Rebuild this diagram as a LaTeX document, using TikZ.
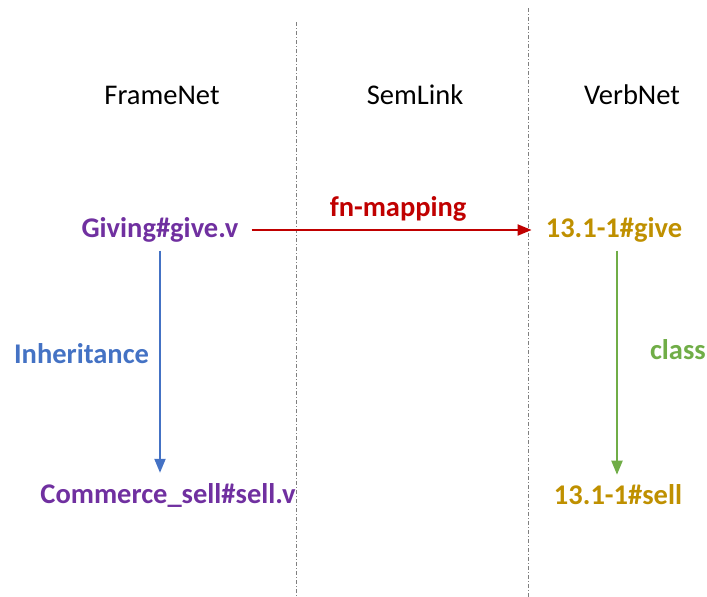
\documentclass[tikz,border=0pt]{standalone}
\usepackage{fontspec}
\setmainfont{Carlito}
\usepackage{xcolor}
\usetikzlibrary{arrows.meta}

\definecolor{fnpurple}{HTML}{7030A0}
\definecolor{vngold}{HTML}{BF9000}
\definecolor{maplred}{HTML}{C00000}
\definecolor{inhblue}{HTML}{4472C4}
\definecolor{clsgreen}{HTML}{70AD47}

\begin{document}
\begin{tikzpicture}[x=1pt, y=-1pt,
		txt/.style={font=\fontsize{28.5}{33}\selectfont, inner sep=4pt},
		entry/.style={txt, font=\fontsize{28.5}{33}\selectfont\bfseries},
		sepline/.style={gray, line width=0.6pt, dash pattern=on 4pt off 2pt on 1pt off 2pt},
		link/.style={line width=2pt, -{Triangle[length=14pt, width=11pt]}}]
		\useasboundingbox (0,0) rectangle (707,597);

		\draw [sepline] (296,22) -- (296,597);
		\draw [sepline] (528,8) -- (528,597);

		\node [txt] (framenet) at (162,95) {FrameNet};
		\node [txt] (semlink) at (415,95) {SemLink};
		\node [txt] (verbnet) at (632,95) {VerbNet};

		\node [entry, text=fnpurple] (giving) at (160,230) {Giving\#give.v};
		\node [entry, text=fnpurple] (commerce) at (168,495) {Commerce\_sell\#sell.v};
		\node [entry, text=vngold] (give13) at (614,230) {13.1-1\#give};
		\node [entry, text=vngold] (sell13) at (618,495) {13.1-1\#sell};

		\draw [link, maplred, shorten <=9pt, shorten >=10pt] (giving) -- (give13)
			node [midway, above=4pt, entry, text=maplred, xshift=6pt] {fn-mapping};
		\draw [link, inhblue, shorten <=4pt, shorten >=6pt] (giving.south) -- (giving.south |- commerce.north)
			node [midway, left=6pt, entry, text=inhblue, yshift=9pt] {Inheritance};
		\draw [link, clsgreen, shorten <=4pt, shorten >=6pt] ([xshift=3pt]give13.south) -- ([xshift=3pt]give13.south |- sell13.north)
			node [midway, right=28pt, entry, text=clsgreen, yshift=14pt] {class};
	\end{tikzpicture}
\end{document}
